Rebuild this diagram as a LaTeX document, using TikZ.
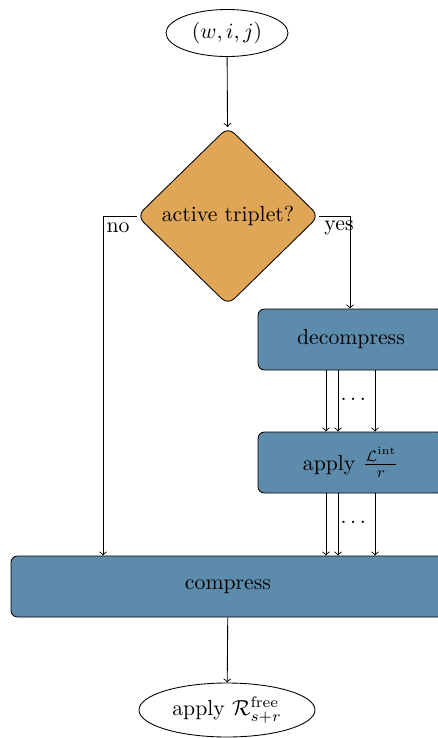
\documentclass[tikz,border=0pt]{standalone}
\usepackage{amsmath}
\usetikzlibrary{shapes.geometric}
\newlength\pxu
\setlength\pxu{0.46pt}
\definecolor{qorange}{RGB}{224,166,88}
\definecolor{pblue}{RGB}{93,139,171}
\tikzset{
  ell/.style={draw, ellipse, inner sep=0pt},
  qdia/.style={draw, diamond, fill=qorange, rounded corners=4pt, aspect=1, inner sep=0pt, minimum width=182\pxu, minimum height=178\pxu},
  pbox/.style={draw, fill=pblue, rounded corners=3pt, minimum width=186\pxu, minimum height=61\pxu, inner sep=0pt},
  conn/.style={->},
}
\begin{document}
\begin{tikzpicture}[x=0.46pt, y=-0.46pt]
\useasboundingbox (0,0) rectangle (438,738);
\node[ell, minimum width=122\pxu, minimum height=47\pxu] (in) at (227,33) {$(w,i,j)$};
\node[qdia] (q) at (228,216) {active triplet?};
\node[pbox] (dec) at (351,339.5) {decompress};
\node[pbox] (app) at (351,462.5) {apply $\frac{\mathcal{L}^{\mathrm{int}}}{r}$};
\node[pbox, minimum width=434\pxu] (comp) at (228,586.5) {compress};
\node[ell, minimum width=176\pxu, minimum height=54\pxu] (out) at (227,710) {apply $\mathcal{R}^{\mathrm{free}}_{s+r}$};

\coordinate (nox) at (103,216);
\coordinate (yesx) at (350,216);
\coordinate (c1) at (326,0);
\coordinate (c2) at (338,0);
\coordinate (c3) at (375,0);

\draw[conn] (in) -- (q);
\draw[conn] (q.west) -- (nox) -- (nox |- comp.north);
\draw[conn] (q.east) -- (yesx) -- (yesx |- dec.north);
\node (nolab) at (118,228) {no};
\node (yeslab) at (339,228) {yes};

\foreach \c in {c1,c2,c3} {
  \draw[conn] (dec.south -| \c) -- (app.north -| \c);
  \draw[conn] (app.south -| \c) -- (comp.north -| \c);
}
\node (dots1) at (355,399) {$\dots$};
\node (dots2) at (355,522) {$\dots$};

\draw[conn] (comp) -- (out);
\end{tikzpicture}
\end{document}
